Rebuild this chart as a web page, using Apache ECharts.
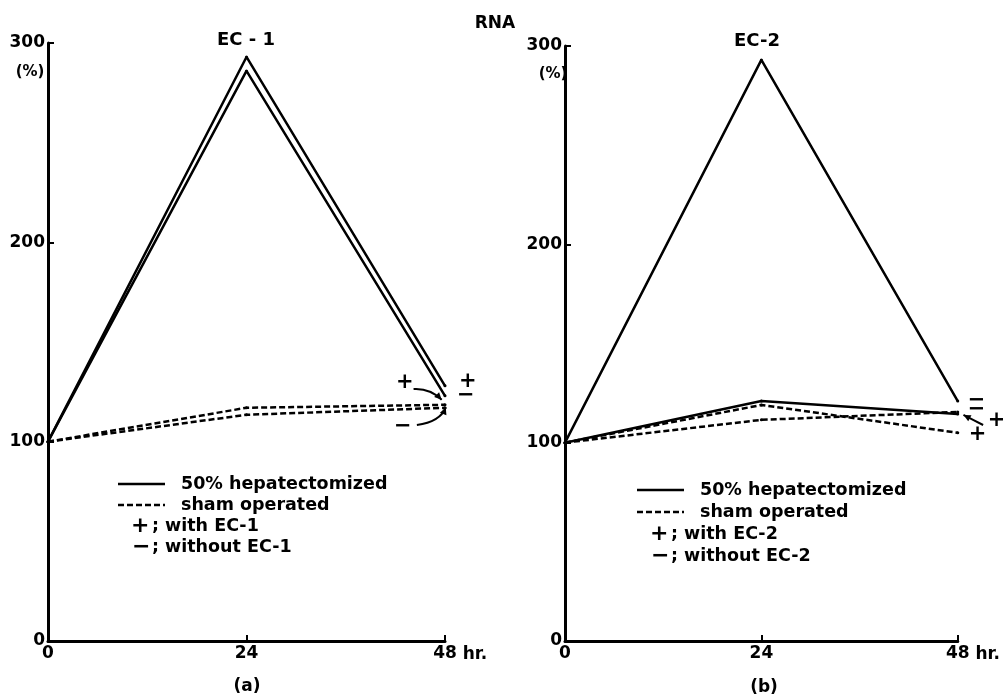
<!DOCTYPE html>
<html>
<head>
<meta charset="utf-8">
<title>RNA</title>
<script src="https://cdn.jsdelivr.net/npm/echarts@6/dist/echarts.min.js"></script>
<style>
  html, body { margin: 0; padding: 0; background: #fff; }
  #chart { width: 1003px; height: 696px; }
</style>
</head>
<body>
<div id="chart"></div>
<script>
// Time points (hours after operation)
const hours = [0, 24, 48];
const yTicks = [0, 100, 200, 300];

// RNA content (% of control), panel (a): EC-1
const ec1HepWith = [100, 293, 128];
const ec1HepWithout = [100, 286, 123];
const ec1ShamWith = [100, 117, 118.5];
const ec1ShamWithout = [100, 113.5, 117];

// RNA content (% of control), panel (b): EC-2
const ec2HepWith = [100, 121, 114.5];
const ec2HepWithout = [100, 293, 121];
const ec2ShamWith = [100, 119, 105];
const ec2ShamWithout = [100, 111.5, 115.5];

const FONT = '"DejaVu Sans", sans-serif';
const INK = '#000';
const DASH = [6, 3];

const pts = (vals) => vals.map((v, i) => [hours[i], v]);

function xAxisFor(gridIndex) {
  return {
    gridIndex,
    type: 'value',
    min: 0,
    max: 48,
    interval: 24,
    name: 'hr.',
    nameLocation: 'end',
    nameGap: 5,
    nameTextStyle: { color: INK, fontFamily: FONT, fontWeight: 'bold', fontSize: 17, verticalAlign: 'top', padding: [5, 0, 0, 0] },
    axisLine: { show: true, lineStyle: { color: INK, width: 3 } },
    axisTick: { show: true, inside: true, length: 6, lineStyle: { color: INK, width: 2 } },
    axisLabel: { color: INK, fontFamily: FONT, fontWeight: 'bold', fontSize: 17, margin: 4 },
    splitLine: { show: false }
  };
}

function yAxisFor(gridIndex) {
  return {
    gridIndex,
    type: 'value',
    min: yTicks[0],
    max: yTicks[yTicks.length - 1],
    interval: 100,
    axisLine: { show: true, lineStyle: { color: INK, width: 3 } },
    axisTick: { show: true, inside: true, length: 6, lineStyle: { color: INK, width: 2 } },
    axisLabel: { color: INK, fontFamily: FONT, fontWeight: 'bold', fontSize: 17, margin: 3 },
    splitLine: { show: false }
  };
}

function endMark(text, offset) {
  return {
    show: true,
    formatter: text,
    offset,
    color: INK,
    fontFamily: FONT,
    fontWeight: 'bold',
    fontSize: 21
  };
}

function lineSeries(name, vals, axis, dashed, label) {
  return {
    name,
    type: 'line',
    xAxisIndex: axis,
    yAxisIndex: axis,
    data: pts(vals),
    symbol: 'circle',
    symbolSize: 3,
    itemStyle: { color: INK },
    lineStyle: { color: INK, width: 2.5, type: dashed ? DASH : 'solid' },
    animation: false,
    endLabel: label
  };
}

// Legend block: sample line + caption rows
function legendBlock(x, y, rowGap, ecName) {
  const txt = (tx, ty, s, size) => ({
    type: 'text', x: tx, y: ty,
    style: { text: s, fill: INK, font: 'bold ' + size + 'px ' + FONT, verticalAlign: 'middle', align: 'left' }
  });
  return [
    { type: 'line', shape: { x1: x, y1: y, x2: x + 47, y2: y }, style: { stroke: INK, lineWidth: 2.5 } },
    txt(x + 63, y, '50% hepatectomized', 17.5),
    { type: 'line', shape: { x1: x, y1: y + rowGap, x2: x + 47, y2: y + rowGap }, style: { stroke: INK, lineWidth: 2.5, lineDash: DASH } },
    txt(x + 63, y + rowGap, 'sham operated', 17.5),
    txt(x + 13, y + 2 * rowGap, '+', 22),
    txt(x + 34, y + 2 * rowGap, '; with ' + ecName, 17.5),
    txt(x + 14, y + 3 * rowGap, '\u2212', 22),
    txt(x + 34, y + 3 * rowGap, '; without ' + ecName, 17.5)
  ];
}

function centerText(x, y, s, size) {
  return {
    type: 'text', x, y,
    style: { text: s, fill: INK, font: 'bold ' + size + 'px ' + FONT, align: 'center', verticalAlign: 'middle' }
  };
}

const option = {
  backgroundColor: '#fff',
  animation: false,
  grid: [
    { left: 48, top: 43, width: 397, height: 598 },
    { left: 565, top: 46, width: 397, height: 595 }
  ],
  xAxis: [xAxisFor(0), xAxisFor(1)],
  yAxis: [yAxisFor(0), yAxisFor(1)],
  series: [
    lineSeries('50% hepatectomized, with EC-1', ec1HepWith, 0, false, endMark('+', [6, -4])),
    lineSeries('50% hepatectomized, without EC-1', ec1HepWithout, 0, false, endMark('\u2212', [4, 0])),
    lineSeries('sham operated, with EC-1', ec1ShamWith, 0, true, endMark('+', [-57, -22])),
    lineSeries('sham operated, without EC-1', ec1ShamWithout, 0, true, endMark('\u2212', [-59, 19])),
    lineSeries('50% hepatectomized, with EC-2', ec2HepWith, 1, false, endMark('+', [22, 7])),
    lineSeries('50% hepatectomized, without EC-2', ec2HepWithout, 1, false, endMark('\u2212', [2, 0])),
    lineSeries('sham operated, with EC-2', ec2ShamWith, 1, true, endMark('+', [3, 2])),
    lineSeries('sham operated, without EC-2', ec2ShamWithout, 1, true, endMark('\u2212', [2, -2]))
  ],
  graphic: [
    centerText(495, 24, 'RNA', 17),
    centerText(246, 40, 'EC - 1', 18),
    centerText(757, 41, 'EC-2', 18),
    centerText(30, 72, '(%)', 15),
    centerText(553, 74, '(%)', 15),
    centerText(247, 687, '(a)', 17),
    centerText(764, 688, '(b)', 17),
    ...legendBlock(118, 484, 21, 'EC-1'),
    ...legendBlock(637, 490, 22, 'EC-2')
  ]
};

const chart = echarts.init(document.getElementById('chart'), null, { renderer: 'canvas' });
chart.setOption(option);

// Pointer arrows from the +/− marks to the line ends, given in data space
// [grid, from, control, to]
const pointers = [
  [0, [44.2, 126.4], [46.2, 126.9], [47.6, 121]],
  [0, [44.6, 108.4], [47.4, 109.9], [48.1, 117.2]],
  [1, [51.1, 108.9], [49.9, 111.4], [48.7, 114.0]]
];

const arrowGraphics = [];
pointers.forEach(([g, from, ctrl, to]) => {
  const p0 = chart.convertToPixel({ gridIndex: g }, from);
  const pc = chart.convertToPixel({ gridIndex: g }, ctrl);
  const p1 = chart.convertToPixel({ gridIndex: g }, to);
  arrowGraphics.push({
    type: 'bezierCurve',
    shape: { x1: p0[0], y1: p0[1], x2: p1[0], y2: p1[1], cpx1: pc[0], cpy1: pc[1] },
    style: { stroke: INK, lineWidth: 2, fill: null }
  });
  const ang = Math.atan2(p1[1] - pc[1], p1[0] - pc[0]);
  const len = 8, half = 0.45;
  arrowGraphics.push({
    type: 'polygon',
    shape: {
      points: [
        [p1[0], p1[1]],
        [p1[0] - len * Math.cos(ang - half), p1[1] - len * Math.sin(ang - half)],
        [p1[0] - len * Math.cos(ang + half), p1[1] - len * Math.sin(ang + half)]
      ]
    },
    style: { fill: INK }
  });
});

chart.setOption({ graphic: option.graphic.concat(arrowGraphics) });
</script>
</body>
</html>
